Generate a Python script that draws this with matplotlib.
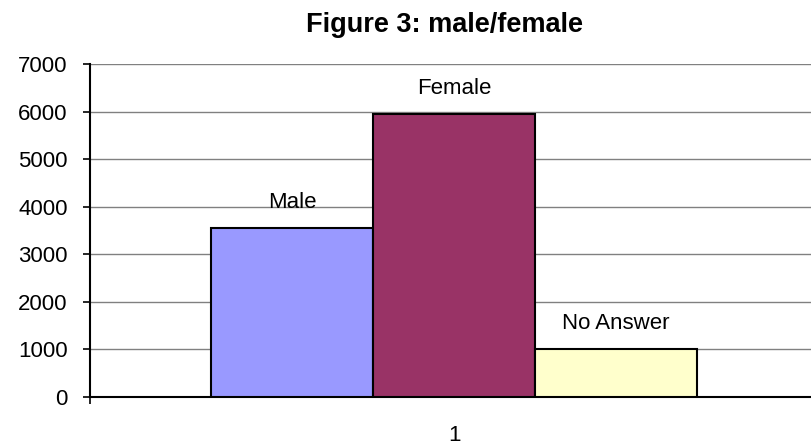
import matplotlib.pyplot as plt

plt.rcParams['font.family'] = ['Liberation Sans', 'DejaVu Sans']

# data
categories = ['Male', 'Female', 'No Answer']
counts = [3550, 5950, 1010]
colors = ['#9999ff', '#993366', '#ffffcc']
group_labels = ['1']

fig = plt.figure(figsize=(8.11, 4.45), dpi=100)
# plot area runs a little past the right edge, like the original
ax = fig.add_axes([90 / 811, 48 / 445, 728 / 811, 333 / 445])

width = 1 / 4.5
offsets = [-width, 0, width]
for name, val, col, off in zip(categories, counts, colors, offsets):
    ax.bar(off, val, width=width, color=col, edgecolor='black', linewidth=1.5, zorder=3)
    ax.annotate(name, (off, val), xytext=(0, 11), textcoords='offset points',
                ha='center', va='bottom', fontsize=16)

ax.set_xlim(-0.5, 0.5)
ax.set_ylim(0, 7000)
ax.set_yticks(range(0, 7001, 1000))
ax.yaxis.grid(True, color='#808080', linewidth=1, zorder=0)
ax.set_xticks([-0.5, 0.5], minor=False)
ax.set_xticklabels(['', ''])
ax.set_xticks([0], minor=True)
ax.set_xticklabels(group_labels, minor=True)
ax.tick_params(axis='x', which='minor', length=0, pad=20, labelsize=16)
ax.tick_params(axis='x', which='major', length=5, width=1.2, direction='out')
ax.tick_params(axis='y', length=5, width=1.2, direction='out', labelsize=16, pad=11)

for side in ['top', 'right']:
    ax.spines[side].set_visible(False)
ax.spines['left'].set_linewidth(1.5)
ax.spines['bottom'].set_linewidth(1.5)

fig.text(444 / 811, 1 - 25 / 445, 'Figure 3: male/female', ha='center', va='center',
         fontsize=19.5, fontweight='bold')

fig.savefig('out.png', dpi=100)
